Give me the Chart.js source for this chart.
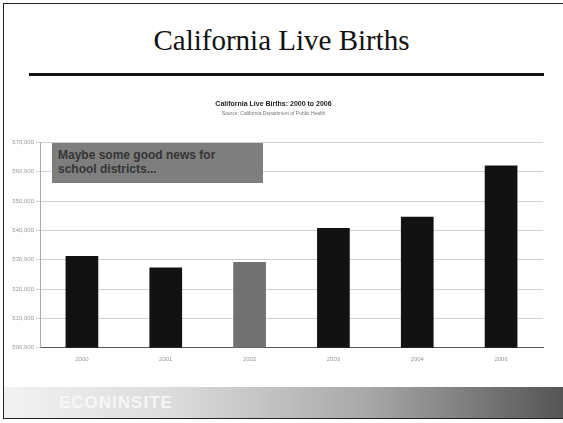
<!DOCTYPE html>
<html>
<head>
<meta charset="utf-8">
<script src="https://cdn.jsdelivr.net/npm/chart.js@4"></script>
<style>
  html, body { margin: 0; padding: 0; background: #fff; }
  #slide { position: relative; width: 563px; height: 423px; overflow: hidden; background: #fff; }
  #frame { position: absolute; left: 3px; top: 3px; width: 570px; height: 416px; border: 1px solid #222; border-right: none; box-sizing: border-box; }
  #heading { position: absolute; left: 0; top: 24px; width: 563px; text-align: center;
    font-family: "Liberation Serif", "DejaVu Serif", serif; font-size: 29px; color: #111; }
  #rule { position: absolute; left: 29px; top: 73px; width: 515px; height: 3px; background: #111; }
  #wrap { position: absolute; left: 4px; top: 93px; width: 546px; height: 270px; }
  #note { position: absolute; left: 52px; top: 143px; width: 211px; height: 40px; background: #7e7e7e;
    font-family: "Liberation Sans", Arial, sans-serif; font-weight: bold; font-size: 12px; line-height: 14px;
    color: #353535; padding: 5px 0 0 6px; box-sizing: border-box; }
  #banner { position: absolute; left: 4px; top: 387px; width: 559px; height: 31px;
    background: linear-gradient(to right, #f2f2f2 0%, #dcdcdc 30%, #a8a8a8 65%, #555 100%); }
  #banner span { position: absolute; left: 55px; top: 6px; font-family: "Liberation Sans", Arial, sans-serif;
    font-weight: bold; font-size: 17px; color: #fafafa; letter-spacing: 1px; opacity: 0.85; }
</style>
</head>
<body>
<div id="slide">
  <div id="frame"></div>
  <div id="heading">California Live Births</div>
  <div id="rule"></div>
  <div id="wrap"><canvas id="myChart"></canvas></div>
  <div id="note">Maybe some good news for<br>school districts...</div>
  <div id="banner"><span>ECONINSITE</span></div>
</div>
<script>
"use strict";

const years = ["2000", "2001", "2002", "2003", "2004", "2006"];
const births = [531285, 527371, 529241, 540827, 544685, 562157];

const black = "#121212";
const grey = "#717171";
const barColors = years.map((y) => (y === "2002" ? grey : black));

const ctx = document.getElementById("myChart");

const config = {
  type: "bar",
  data: {
    labels: years,
    datasets: [
      {
        label: "Live births",
        data: births,
        backgroundColor: barColors,
        borderWidth: 0,
        barPercentage: 0.5,
        categoryPercentage: 0.78,
      },
    ],
  },
  options: {
    responsive: true,
    maintainAspectRatio: false,
    animation: false,
    layout: { padding: { left: 0, right: 7, top: 3, bottom: 0 } },
    scales: {
      x: {
        grid: { display: false },
        border: { color: "#555", width: 1 },
        ticks: {
          color: "#999",
          font: { family: "Liberation Sans", size: 6 },
          padding: 0,
        },
      },
      y: {
        min: 500000,
        max: 570000,
        afterFit: (scale) => {
          scale.width = 36;
        },
        grid: { color: "#cfcfcf", lineWidth: 1, drawTicks: true, tickLength: 4 },
        border: { color: "#aaa", width: 1 },
        ticks: {
          stepSize: 10000,
          color: "#999",
          font: { family: "Liberation Sans", size: 6 },
          padding: 2,
          callback: (v) => v.toLocaleString("en-US"),
        },
      },
    },
    plugins: {
      legend: { display: false },
      tooltip: { enabled: false },
      title: {
        display: true,
        text: "California Live Births: 2000 to 2006",
        color: "#222",
        font: { family: "Liberation Sans", size: 7, weight: "bold" },
        padding: { top: 4, bottom: 2 },
      },
      subtitle: {
        display: true,
        text: "Source: California Department of Public Health",
        color: "#777",
        font: { family: "Liberation Sans", size: 5 },
        padding: { top: 0, bottom: 26 },
      },
    },
  },
};

new Chart(ctx, config);
</script>
</body>
</html>
